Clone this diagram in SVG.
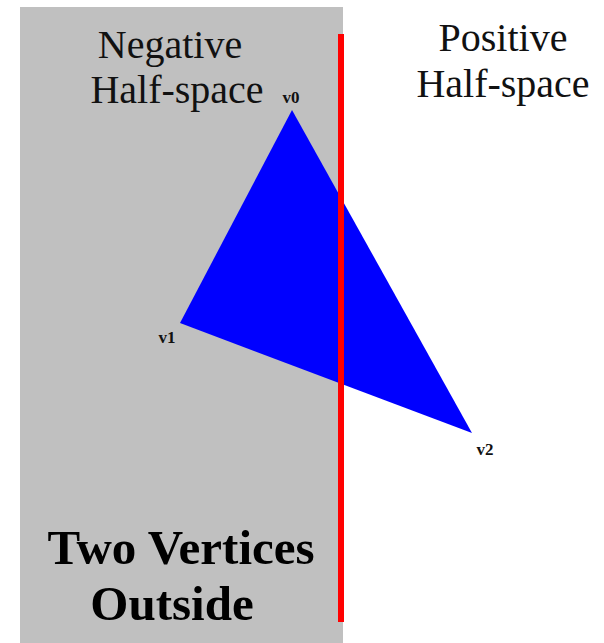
<svg xmlns="http://www.w3.org/2000/svg" width="604" height="643" viewBox="0 0 604 643">
<style>
.lbl{font-family:"Liberation Serif",serif;font-size:40px;fill:#111;text-anchor:middle}
.v{font-family:"Liberation Serif",serif;font-size:17px;font-weight:bold;fill:#111;text-anchor:middle}
.big{font-family:"Liberation Serif",serif;font-size:49px;font-weight:bold;fill:#000;text-anchor:middle}
</style>
<rect x="0" y="0" width="604" height="643" fill="#fff"/>
<g id="negative">
<rect x="20" y="7" width="323" height="636" fill="#c0c0c0"/>
<text class="lbl" x="170" y="58">Negative</text>
<text class="lbl" x="177" y="103">Half-space</text>
</g>
<g id="positive">
<text class="lbl" x="503" y="51">Positive</text>
<text class="lbl" x="503" y="97">Half-space</text>
</g>
<g id="triangle">
<polygon points="292,110 180,323 472,433" fill="#0000ff"/>
<text class="v" x="291" y="103">v0</text>
<text class="v" x="167" y="343">v1</text>
<text class="v" x="485" y="455">v2</text>
</g>
<g id="plane">
<rect x="338" y="34" width="6" height="588" fill="#ff0000"/>
</g>
<g id="caption">
<text class="big" x="181" y="564">Two Vertices</text>
<text class="big" x="172" y="620">Outside</text>
</g>
</svg>
